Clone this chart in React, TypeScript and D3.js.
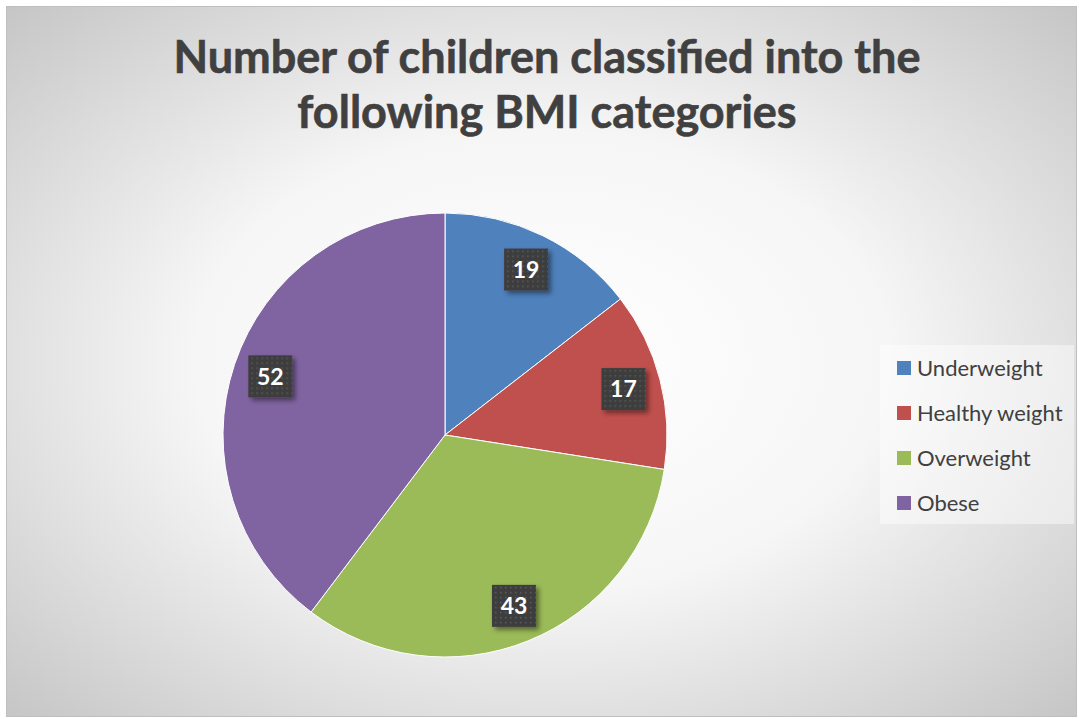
import React from "react";
import * as d3 from "d3";

const categories = ["Underweight", "Healthy weight", "Overweight", "Obese"];
const values = [19, 17, 43, 52];
const colors = ["#4f81bd", "#c0504d", "#9bbb59", "#8064a2"];
const titleLines = ["Number of children classified into the", "following BMI categories"];

const W = 1079;
const H = 719;

export default function App() {
  const cx = 445, cy = 435, r = 222;
  const pie = d3.pie<number>().value((d) => d).sort(null);
  const arcs = pie(values);
  const arcGen = d3.arc<d3.PieArcDatum<number>>().innerRadius(0).outerRadius(r);
  const labelArc = d3.arc<d3.PieArcDatum<number>>().innerRadius(r * 0.83).outerRadius(r * 0.83);
  const legendY = d3.scalePoint<string>().domain(categories).range([368, 503]);
  const font = "Lato, 'Open Sans', sans-serif";

  return (
    <svg width={W} height={H} style={{ position: "absolute", left: 0, top: 0 }} fontFamily={font}>
      <defs>
        <radialGradient id="bg" cx="50%" cy="50%" r="72%" gradientUnits="objectBoundingBox">
          <stop offset="0%" stopColor="#ffffff" />
          <stop offset="45%" stopColor="#f6f6f6" />
          <stop offset="100%" stopColor="#c4c4c4" />
        </radialGradient>
        <pattern id="dots" width="5" height="5" patternUnits="userSpaceOnUse">
          <rect width="5" height="5" fill="#3e3e3e" />
          <rect x="1" y="1" width="1.5" height="1.5" fill="#5a5a5a" />
        </pattern>
        <filter id="shadow" x="-30%" y="-30%" width="180%" height="180%">
          <feDropShadow dx="3" dy="3" stdDeviation="2.5" floodColor="#000" floodOpacity="0.45" />
        </filter>
      </defs>
      <rect x={0} y={0} width={W} height={H} fill="#ffffff" />
      <rect x={6.5} y={6.5} width={1070} height={710} fill="url(#bg)" stroke="#bfbfbf" strokeWidth={1} />
      {titleLines.map((t, i) => (
        <text key={i} x={547} y={73 + i * 55} textAnchor="middle" fontWeight="bold" fontSize={45} fill="#404040" stroke="#404040" strokeWidth={0.6}>
          {t}
        </text>
      ))}
      <g transform={`translate(${cx},${cy})`}>
        {arcs.map((a, i) => (
          <path key={i} d={arcGen(a) || ""} fill={colors[i]} stroke="#ffffff" strokeWidth={1} />
        ))}
        {arcs.map((a, i) => {
          const [x, y] = labelArc.centroid(a);
          return (
            <g key={"l" + i} transform={`translate(${x},${y})`}>
              <rect x={-22} y={-21} width={44} height={42} fill="url(#dots)" filter="url(#shadow)" />
              <text x={0} y={0} dy="0.36em" textAnchor="middle" fontWeight="bold" fontSize={23} fill="#ffffff">
                {a.data}
              </text>
            </g>
          );
        })}
      </g>
      <rect x={880} y={345} width={194} height={179} fill="#ffffff" fillOpacity={0.45} />
      {categories.map((c, i) => (
        <g key={c} transform={`translate(897,${legendY(c)})`}>
          <rect x={0} y={-7} width={14} height={14} fill={colors[i]} />
          <text x={20} y={0} dy="0.35em" fontSize={22} fill="#404040">
            {c}
          </text>
        </g>
      ))}
    </svg>
  );
}
